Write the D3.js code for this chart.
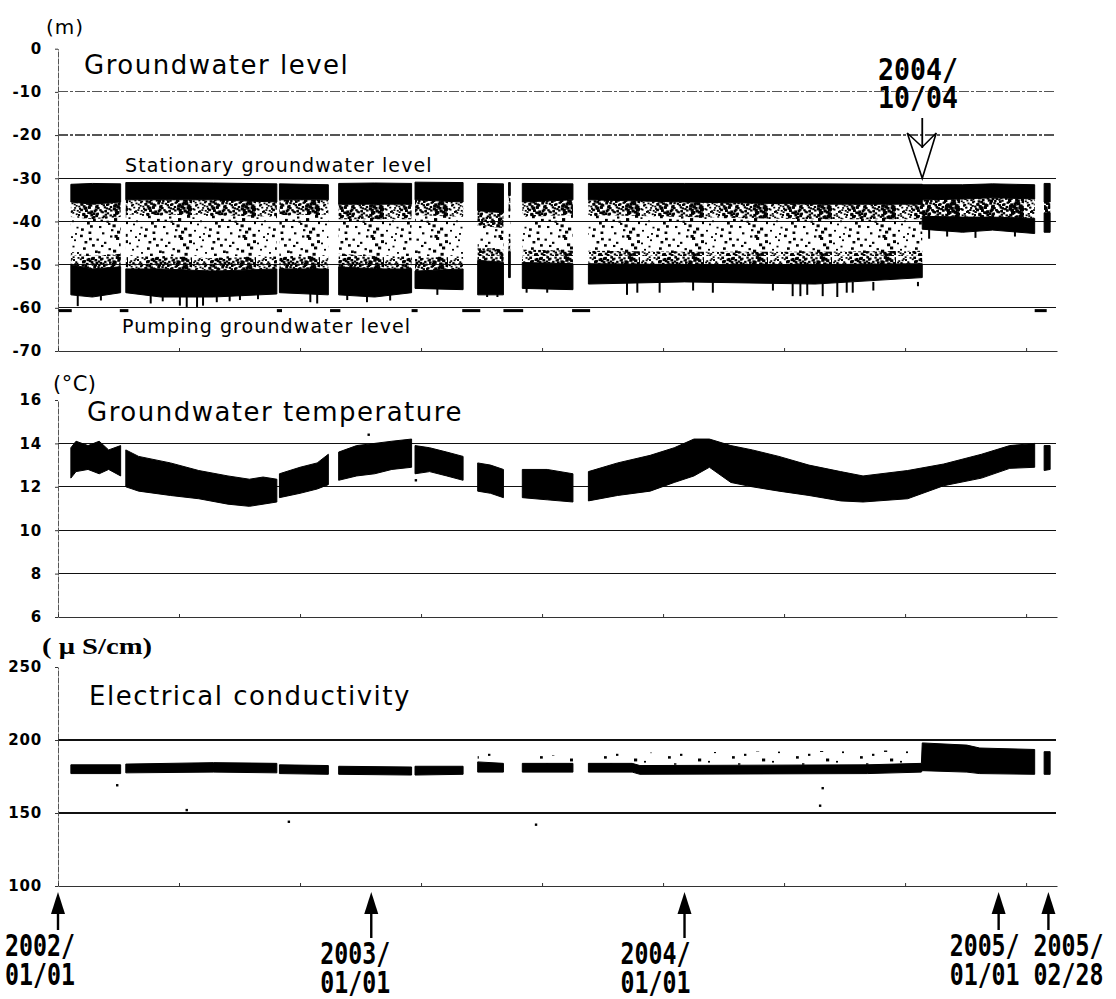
<!DOCTYPE html>
<html>
<head>
<meta charset="utf-8">
<script src="https://cdn.jsdelivr.net/npm/d3@7"></script>
<style>
  body { margin: 0; background: #fff; }
  svg { display: block; }
</style>
</head>
<body>
<svg id="chart" width="1116" height="999"></svg>
<script>
const parseDate = d3.timeParse("%Y-%m-%d");

// groundwater level (m): [date, stationary band top, stationary band bottom, pumping band top, pumping band bottom]
// null = logger gap
const levelBands = [
  ["2002-01-16", -31.4, -35.5, -50.0, -57.0],
  ["2002-02-10", -31.2, -36.0, -51.0, -57.5],
  ["2002-03-15", -31.3, -35.5, -50.5, -56.5],
  null,
  ["2002-03-21", -31.0, -35.0, -51.0, -56.5],
  ["2002-05-01", -31.0, -35.0, -51.0, -57.5],
  ["2002-07-01", -31.1, -35.0, -51.5, -57.5],
  ["2002-09-13", -31.3, -35.5, -51.0, -56.8],
  null,
  ["2002-09-16", -31.3, -35.0, -51.0, -56.5],
  ["2002-11-12", -31.5, -35.0, -51.0, -57.0],
  null,
  ["2002-11-24", -31.2, -36.0, -50.5, -57.0],
  ["2003-01-05", -31.1, -36.0, -51.0, -57.5],
  ["2003-02-17", -31.2, -36.0, -51.0, -56.5],
  null,
  ["2003-02-21", -30.9, -35.0, -51.5, -55.5],
  ["2003-04-18", -31.0, -35.5, -51.0, -55.8],
  null,
  ["2003-05-05", -31.2, -37.5, -49.0, -57.0],
  ["2003-06-04", -31.3, -38.0, -49.5, -57.0],
  null,
  ["2003-06-10", -31.0, -34.0, -47.0, -53.0],
  ["2003-06-12", -31.0, -34.0, -47.0, -53.0],
  null,
  ["2003-06-26", -31.2, -35.5, -49.5, -55.5],
  ["2003-08-24", -31.3, -35.0, -49.8, -55.8],
  null,
  ["2003-09-11", -31.2, -35.0, -49.8, -54.5],
  ["2004-01-01", -31.2, -35.5, -50.0, -54.0],
  ["2004-06-01", -31.3, -36.0, -50.0, -54.5],
  ["2004-10-04", -31.4, -36.0, -49.8, -53.0],
  null,
  ["2004-10-04", -31.5, -35.0, -38.8, -41.8],
  ["2004-11-20", -31.5, -34.8, -39.0, -42.5],
  ["2004-12-25", -31.3, -34.5, -39.0, -42.0],
  ["2005-02-12", -31.5, -34.8, -39.3, -42.8],
  null,
  ["2005-02-23", -31.2, -35.5, -38.0, -42.5],
  ["2005-03-02", -31.2, -35.5, -38.0, -42.5]
];

// deepest readings of short dips below the pumping band (m)
const levelDips = [
  ["2002-01-24", -59.6], ["2002-02-20", -58.3], ["2002-04-19", -59.0], ["2002-05-03", -58.5],
  ["2002-05-23", -59.5], ["2002-05-31", -59.8], ["2002-06-12", -59.8], ["2002-06-19", -59.5],
  ["2002-07-05", -58.7], ["2002-07-20", -58.5], ["2002-08-01", -58.2], ["2002-08-22", -58.0],
  ["2002-10-22", -58.7], ["2002-10-30", -59.0], ["2002-12-04", -58.2], ["2002-12-27", -58.7],
  ["2003-01-23", -58.3], ["2003-03-19", -57.0], ["2003-05-16", -57.5], ["2003-05-28", -57.5],
  ["2003-07-01", -56.5], ["2003-07-25", -56.5], ["2003-10-26", -57.0], ["2003-11-07", -56.5],
  ["2003-12-03", -56.5], ["2004-01-11", -56.0], ["2004-02-03", -56.5], ["2004-04-13", -56.0],
  ["2004-05-06", -57.3], ["2004-05-15", -57.3], ["2004-05-23", -57.0], ["2004-06-10", -57.3],
  ["2004-06-27", -57.5], ["2004-07-08", -56.5], ["2004-07-15", -56.5], ["2004-08-08", -56.0],
  ["2004-09-29", -55.0], ["2004-10-12", -44.0], ["2004-11-02", -43.5], ["2004-12-05", -43.8],
  ["2005-01-20", -43.5]
];

// readings lying on the pumping level line, just below -60 m
const pumpLevelRuns = [
  ["2002-01-01", "2002-01-17"], ["2002-03-14", "2002-03-24"], ["2002-09-13", "2002-09-19"],
  ["2002-11-14", "2002-11-26"], ["2003-02-17", "2003-02-24"], ["2003-04-17", "2003-05-08"],
  ["2003-06-04", "2003-06-27"], ["2003-08-23", "2003-09-13"], ["2005-02-12", "2005-02-26"]
];
const pumpLevel = -60.6;
const levelTicks = [0, -10, -20, -30, -40, -50, -60, -70];

// groundwater temperature (°C): [date, low, high]
const tempBands = [
  ["2002-01-16", 12.4, 13.8], ["2002-01-22", 12.7, 14.1], ["2002-02-05", 12.8, 13.9],
  ["2002-02-18", 12.6, 14.1], ["2002-03-01", 12.8, 13.7], ["2002-03-15", 12.5, 13.9],
  null,
  ["2002-03-21", 12.0, 13.7], ["2002-04-05", 11.8, 13.4], ["2002-05-12", 11.6, 13.1],
  ["2002-06-14", 11.45, 12.75], ["2002-07-18", 11.2, 12.5], ["2002-08-12", 11.1, 12.35],
  ["2002-08-28", 11.2, 12.45], ["2002-09-13", 11.3, 12.35],
  null,
  ["2002-09-16", 11.5, 12.6], ["2002-10-10", 11.7, 12.9], ["2002-10-30", 11.9, 13.1],
  ["2002-11-12", 12.1, 13.5],
  null,
  ["2002-11-24", 12.3, 13.6], ["2002-12-15", 12.5, 13.9], ["2003-01-05", 12.6, 14.0],
  ["2003-01-25", 12.8, 14.1], ["2003-02-17", 12.9, 14.2],
  null,
  ["2003-02-21", 12.6, 13.9], ["2003-03-10", 12.7, 13.8], ["2003-03-30", 12.5, 13.6],
  ["2003-04-18", 12.3, 13.4],
  null,
  ["2003-05-05", 11.8, 13.1], ["2003-05-20", 11.7, 13.0], ["2003-06-04", 11.5, 12.8],
  null,
  ["2003-06-26", 11.5, 12.8], ["2003-07-25", 11.4, 12.8], ["2003-08-24", 11.3, 12.6],
  null,
  ["2003-09-11", 11.35, 12.7], ["2003-10-15", 11.6, 13.1], ["2003-11-22", 11.8, 13.45],
  ["2003-12-20", 12.2, 13.8], ["2004-01-12", 12.5, 14.2], ["2004-01-30", 12.9, 14.2],
  ["2004-02-24", 12.2, 13.9], ["2004-03-20", 12.0, 13.7], ["2004-04-20", 11.8, 13.4],
  ["2004-05-25", 11.6, 13.0], ["2004-07-01", 11.35, 12.7], ["2004-07-27", 11.3, 12.5],
  ["2004-09-17", 11.45, 12.75], ["2004-10-29", 12.05, 13.05], ["2004-12-12", 12.4, 13.5],
  ["2005-01-14", 12.85, 13.9], ["2005-02-12", 12.9, 14.0],
  null,
  ["2005-02-23", 12.75, 13.9], ["2005-03-02", 12.8, 13.9]
];
const tempStray = [["2002-12-29", 14.4], ["2003-02-22", 12.3]];
const tempTicks = [16, 14, 12, 10, 8, 6];

// electrical conductivity (µS/cm): [date, low, high]
const condBands = [
  ["2002-01-16", 177, 183], ["2002-03-15", 177, 183],
  null,
  ["2002-03-21", 177.5, 183.5], ["2002-07-01", 178, 184.5], ["2002-09-13", 177.5, 184],
  null,
  ["2002-09-16", 177, 183], ["2002-11-12", 176.5, 182.5],
  null,
  ["2002-11-24", 176.5, 182], ["2003-02-17", 176, 181.5],
  null,
  ["2003-02-21", 176, 182], ["2003-04-18", 176.5, 182],
  null,
  ["2003-05-05", 178, 185], ["2003-06-04", 178, 184],
  null,
  ["2003-06-26", 178, 184], ["2003-08-24", 178, 184],
  null,
  ["2003-09-11", 178, 184], ["2003-11-01", 178, 184], ["2003-11-10", 176.5, 182.5],
  ["2004-08-01", 177, 183], ["2004-10-03", 178, 184], ["2004-10-04", 179, 198],
  ["2004-11-25", 178, 196.5], ["2004-12-10", 177, 194.5], ["2005-02-12", 176.5, 193.5],
  null,
  ["2005-02-23", 176.5, 192], ["2005-03-02", 176.5, 192]
];
// scattered readings just above the band
const condScatter = [
  ["2003-05-05", 184, 192], ["2003-06-04", 184, 190],
  null,
  ["2003-06-26", 183, 190], ["2003-08-24", 183, 189],
  null,
  ["2003-09-11", 183, 191], ["2004-10-03", 183, 193]
];
const condStray = [
  ["2002-03-11", 169], ["2002-05-31", 152], ["2002-09-27", 144],
  ["2003-07-12", 142], ["2004-06-10", 167], ["2004-06-07", 155]
];
const condTicks = [250, 200, 150, 100];

const markDates = ["2002-01-01", "2003-01-01", "2004-01-01", "2005-01-01", "2005-02-28"];
const markLabels = [["2002/", "01/01"], ["2003/", "01/01"], ["2004/", "01/01"], ["2005/", "01/01"], ["2005/", "02/28"]];
const changeDate = "2004-10-04";
const changeLabel = ["2004/", "10/04"];

// ---- layout ----
const svg = d3.select("#chart");
const left = 58, right = 1056;

const x = d3.scaleTime()
  .domain([parseDate("2002-01-01"), parseDate("2005-03-10")])
  .range([left, right + 1]);
const xTicks = d3.range(0, 9).map(k => d3.timeDay.offset(x.domain()[0], 141 * k));

const yLevel = d3.scaleLinear().domain([-70, 0]).range([351, 48.7]);
const yTemp = d3.scaleLinear().domain([6, 16]).range([617, 400]);
const yCond = d3.scaleLinear().domain([100, 250]).range([886, 667]);

// speckle textures standing in for the clouds of single readings between the bands
// (dots sit on a Halton (2,3) sequence, so the texture is fixed)
const defs = svg.append("defs");
function halton(i, b) {
  let f = 1, r = 0;
  while (i > 0) { f /= b; r += f * (i % b); i = Math.floor(i / b); }
  return r;
}
function addSpeckle(id, size, count) {
  const dots = d3.range(1, count + 1).map(k => [
    halton(k, 2) * size,
    halton(k, 3) * size,
    2 + (k % 4) * 0.4
  ]);
  const p = defs.append("pattern")
    .attr("id", id)
    .attr("patternUnits", "userSpaceOnUse")
    .attr("width", size)
    .attr("height", size);
  p.selectAll("rect").data(dots).join("rect")
    .attr("x", d => d[0]).attr("y", d => d[1])
    .attr("width", d => d[2]).attr("height", d => d[2] - 0.3)
    .attr("fill", "#000");
}
addSpeckle("speckDense", 64, 420);
addSpeckle("speckMid", 64, 85);
addSpeckle("speckLight", 64, 24);

function drawFrame(y, ticks, faint) {
  const grid = ticks.slice(1, -1);
  svg.append("g").selectAll("line").data(grid).join("line")
    .attr("x1", left).attr("x2", right)
    .attr("y1", d => y(d)).attr("y2", d => y(d))
    .attr("stroke", d => faint.includes(d) ? "#555" : "#111")
    .attr("stroke-dasharray", d => faint.includes(d) ? "10,2,3,2" : null)
    .attr("stroke-width", 1.2)
    .attr("shape-rendering", "crispEdges");
}

function drawAxes(y, ticks) {
  const ax = svg.append("g")
    .attr("transform", `translate(${left},0)`)
    .call(d3.axisLeft(y).tickValues(ticks).tickSize(3).tickSizeOuter(0).tickPadding(13).tickFormat(d => String(d)));
  ax.select(".domain").attr("stroke", "#555").attr("stroke-dasharray", "6,1");
  ax.selectAll(".tick line").attr("stroke", "#333");
  ax.selectAll(".tick text")
    .attr("font-family", "DejaVu Sans")
    .attr("font-weight", "bold")
    .attr("font-size", 15)
    .attr("letter-spacing", 0.8)
    .attr("fill", "#000");

  const bx = svg.append("g")
    .attr("transform", `translate(0,${y.range()[0]})`)
    .call(d3.axisBottom(x).tickValues(xTicks).tickSize(-3).tickSizeOuter(0).tickFormat(() => ""));
  bx.select(".domain").attr("stroke", "#333").attr("stroke-width", 1.2);
  bx.selectAll(".tick line").attr("stroke", "#333");
}

function title(text, px, py, size, spacing) {
  svg.append("text")
    .attr("x", px).attr("y", py)
    .attr("font-family", "DejaVu Sans")
    .attr("font-size", size)
    .attr("letter-spacing", spacing)
    .attr("fill", "#000")
    .text(text);
}

// narrow bold date text: monospace squeezed horizontally to the reference width
function dateText(parent, text, px, py, width) {
  const size = 30;
  const sx = width / (text.length * 0.602 * size);
  parent.append("text")
    .attr("transform", `translate(${px},${py}) scale(${sx},1)`)
    .attr("font-family", "DejaVu Sans Mono")
    .attr("font-weight", "bold")
    .attr("font-size", size)
    .text(text);
}

const edge = sel => sel.attr("stroke", "#000").attr("stroke-width", 1).attr("stroke-linejoin", "round");

// ---- panel 1: groundwater level ----
drawFrame(yLevel, levelTicks, [-10, -20]);

const lv = levelBands.map(r => r && { date: parseDate(r[0]), upTop: r[1], upBot: r[2], lowTop: r[3], lowBot: r[4] });
const levelArea = (a, b) => d3.area()
  .defined(d => d)
  .x(d => x(d.date))
  .y0(d => yLevel(a(d)))
  .y1(d => yLevel(b(d)));

const g1 = svg.append("g");
g1.append("path").datum(lv)
  .attr("d", levelArea(d => d.upBot, d => d.lowTop))
  .attr("fill", "url(#speckMid)");
g1.append("path").datum(lv)
  .attr("d", levelArea(d => d.upBot, d => Math.max(d.upBot - 3.5, d.lowTop)))
  .attr("fill", "url(#speckDense)");
g1.append("path").datum(lv)
  .attr("d", levelArea(d => d.lowTop, d => Math.min(d.lowTop + 3, d.upBot)))
  .attr("fill", "url(#speckDense)");
g1.append("path").datum(lv)
  .attr("d", levelArea(d => d.upTop, d => d.upBot))
  .attr("fill", "#000").call(edge);
g1.append("path").datum(lv)
  .attr("d", levelArea(d => d.lowTop, d => d.lowBot))
  .attr("fill", "#000").call(edge);

g1.selectAll(".dip").data(levelDips).join("line")
  .attr("x1", d => x(parseDate(d[0]))).attr("x2", d => x(parseDate(d[0])))
  .attr("y1", d => yLevel(d[1] > -50 ? -41 : -54)).attr("y2", d => yLevel(d[1]))
  .attr("stroke", "#000").attr("stroke-width", 2);

g1.selectAll(".pump").data(pumpLevelRuns).join("rect")
  .attr("x", d => x(parseDate(d[0])))
  .attr("width", d => x(parseDate(d[1])) - x(parseDate(d[0])))
  .attr("y", yLevel(pumpLevel + 0.3))
  .attr("height", yLevel(pumpLevel - 0.4) - yLevel(pumpLevel + 0.3))
  .attr("fill", "#000");

drawAxes(yLevel, levelTicks);

svg.append("text").attr("x", 46).attr("y", 34)
  .attr("font-family", "DejaVu Sans").attr("font-size", 20).attr("letter-spacing", 1)
  .text("(m)");
title("Groundwater level", 84, 74, 26, 1.5);
title("Stationary groundwater level", 125, 172, 19, 1.1);
title("Pumping groundwater level", 122, 333, 19, 1.1);

// change of pumping regime
const cx = x(parseDate(changeDate));
const yTip = yLevel(-30);
const ann = svg.append("g");
ann.append("line")
  .attr("x1", cx).attr("x2", cx).attr("y1", 118).attr("y2", 148)
  .attr("stroke", "#000").attr("stroke-width", 1.8);
ann.append("path")
  .attr("d", `M${cx - 15},133 L${cx},147 L${cx + 14},133 L${cx},${yTip} Z`)
  .attr("fill", "none").attr("stroke", "#000").attr("stroke-width", 1.6)
  .attr("stroke-linejoin", "miter");
changeLabel.forEach((t, i) => dateText(ann, t, 878, 80 + i * 28, 80));

// ---- panel 2: groundwater temperature ----
drawFrame(yTemp, tempTicks, []);

const tv = tempBands.map(r => r && { date: parseDate(r[0]), lo: r[1], hi: r[2] });
svg.append("path").datum(tv)
  .attr("d", d3.area().defined(d => d).x(d => x(d.date)).y0(d => yTemp(d.lo)).y1(d => yTemp(d.hi)))
  .attr("fill", "#000").call(edge);
svg.append("g").selectAll("rect").data(tempStray).join("rect")
  .attr("x", d => x(parseDate(d[0])) - 1.2).attr("y", d => yTemp(d[1]) - 1.2)
  .attr("width", 2.4).attr("height", 2.4).attr("fill", "#000");

drawAxes(yTemp, tempTicks);

svg.append("text").attr("x", 53).attr("y", 391)
  .attr("font-family", "DejaVu Sans").attr("font-size", 21).attr("letter-spacing", 0.5)
  .text("(°C)");
title("Groundwater temperature", 87, 421, 26, 1.5);

// ---- panel 3: electrical conductivity ----
drawFrame(yCond, condTicks, []);

const condArea = d3.area().defined(d => d).x(d => x(d.date)).y0(d => yCond(d.lo)).y1(d => yCond(d.hi));
const sv = condScatter.map(r => r && { date: parseDate(r[0]), lo: r[1], hi: r[2] });
const cv = condBands.map(r => r && { date: parseDate(r[0]), lo: r[1], hi: r[2] });
svg.append("path").datum(sv).attr("d", condArea).attr("fill", "url(#speckLight)");
svg.append("path").datum(cv).attr("d", condArea).attr("fill", "#000").call(edge);
svg.append("g").selectAll("rect").data(condStray).join("rect")
  .attr("x", d => x(parseDate(d[0])) - 1.2).attr("y", d => yCond(d[1]) - 1.2)
  .attr("width", 2.4).attr("height", 2.4).attr("fill", "#000");

drawAxes(yCond, condTicks);

svg.append("text").attr("x", 42).attr("y", 654)
  .attr("font-family", "Liberation Serif").attr("font-weight", "bold").attr("font-size", 24)
  .attr("textLength", 110).attr("lengthAdjust", "spacingAndGlyphs")
  .text("( \u03bc S/cm)");
title("Electrical conductivity", 89, 705, 26, 1.5);

// ---- date arrows under the bottom panel ----
const markDx = [-53, -51, -64, -49, -15];
const markTop = [933, 941, 941, 933, 933];
const marks = svg.append("g");
markDates.forEach((ds, i) => {
  const mx = x(parseDate(ds));
  marks.append("path")
    .attr("d", `M${mx - 7},914 L${mx},892 L${mx + 7},914 Z`)
    .attr("fill", "#000");
  marks.append("rect")
    .attr("x", mx - 1.2).attr("y", 912)
    .attr("width", 2.4).attr("height", markTop[i] - 3 - 912)
    .attr("fill", "#000");
  markLabels[i].forEach((t, j) => dateText(marks, t, mx + markDx[i], markTop[i] + 23 + j * 29, 70));
});
</script>
</body>
</html>
